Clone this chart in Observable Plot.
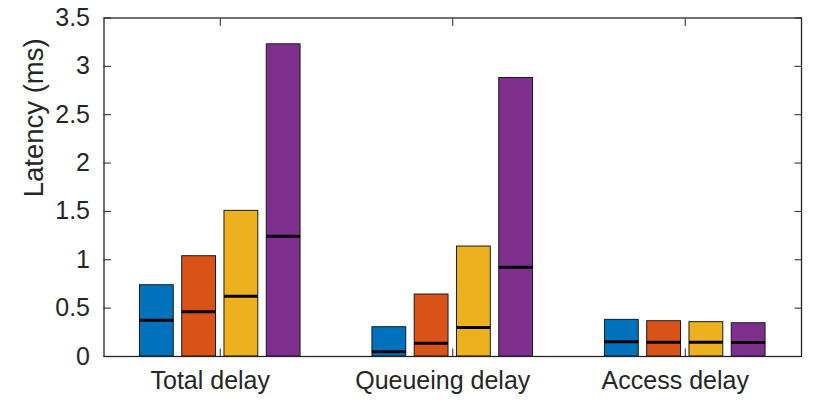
<!DOCTYPE html>
<html>
<head>
<meta charset="utf-8">
<script src="https://cdn.jsdelivr.net/npm/d3@7"></script>
<script src="https://cdn.jsdelivr.net/npm/@observablehq/plot@0.6"></script>
<style>
  html, body { margin: 0; padding: 0; background: #fff; }
</style>
</head>
<body>
<div id="chart"></div>
<script>
const categories = ["Total delay", "Queueing delay", "Access delay"];
const seriesNames = ["A", "B", "C", "D"];
const colors = ["#0072BD", "#D95319", "#EDB120", "#7E2F8E"];
// bar heights (mean latency, ms) per category, per series
const totalValues    = [0.737, 1.037, 1.506, 3.228];
const queueingValues = [0.303, 0.641, 1.137, 2.880];
const accessValues   = [0.379, 0.365, 0.355, 0.344];
// black markers (median latency, ms)
const totalMedians    = [0.375, 0.462, 0.623, 1.243];
const queueingMedians = [0.048, 0.137, 0.300, 0.923];
const accessMedians   = [0.152, 0.148, 0.148, 0.145];
const yTicks = [0, 0.5, 1, 1.5, 2, 2.5, 3, 3.5];
const yLabel = "Latency (ms)";

const valueTable = [totalValues, queueingValues, accessValues];
const medianTable = [totalMedians, queueingMedians, accessMedians];

// MATLAB grouped bar geometry (in category units)
const nS = seriesNames.length;
const groupWidth = Math.min(0.8, nS / (nS + 1.5));
const pitch = groupWidth / nS;
const barW = pitch * 0.8;

const rows = [];
categories.forEach((c, i) => {
  seriesNames.forEach((s, j) => {
    const center = (i + 1) + (j - (nS - 1) / 2) * pitch;
    rows.push({
      category: c, series: s,
      x1: center - barW / 2, x2: center + barW / 2,
      value: valueTable[i][j], median: medianTable[i][j]
    });
  });
});

const font = "'Liberation Sans', Arial, Helvetica, sans-serif";
const ink = "#262626";

const chart = Plot.plot({
  width: 830,
  height: 401,
  marginLeft: 103.5,
  marginRight: 29,
  marginTop: 17.5,
  marginBottom: 45,
  style: { fontFamily: font, fontSize: "25px", color: ink, background: "#fff" },
  x: { type: "linear", domain: [0.5, 3.5] },
  y: { domain: [0, 3.5] },
  color: { domain: seriesNames, range: colors },
  marks: [
    // bottom inward x ticks (behind bars)
    Plot.axisX([1, 2, 3], { anchor: "bottom", tickSize: -7.5, fill: "none", stroke: ink, label: null }),
    Plot.rect(rows, { x1: "x1", x2: "x2", y1: 0, y2: "value", fill: "series", stroke: "#1a1a1a", strokeWidth: 1 }),
    Plot.ruleY(rows, { y: "median", x1: "x1", x2: "x2", stroke: "#000", strokeWidth: 3 }),
    Plot.frame({ stroke: ink, strokeWidth: 1.3 }),
    Plot.axisX([1, 2, 3], { anchor: "top", tickSize: -7.5, fill: "none", stroke: ink, label: null }),
    Plot.axisY(yTicks, { anchor: "left", tickSize: -7.5, fill: "none", stroke: ink, label: null }),
    Plot.axisY(yTicks, { anchor: "right", tickSize: -7.5, fill: "none", stroke: ink, label: null }),
    Plot.axisX([1, 2, 3], { anchor: "bottom", tickSize: 0, tickPadding: 15, fontSize: 25, fill: ink, dx: -10,
      tickFormat: d => categories[d - 1], label: null }),
    Plot.axisY(yTicks, { anchor: "left", tickSize: 0, tickPadding: 14, fontSize: 25, fill: ink,
      tickFormat: d => String(d), label: null }),
    Plot.text([yLabel], { frameAnchor: "left", rotate: -90, dx: -70, dy: 10, fontSize: 27.5, fill: ink })
  ]
});

document.getElementById("chart").appendChild(chart);
</script>
</body>
</html>
